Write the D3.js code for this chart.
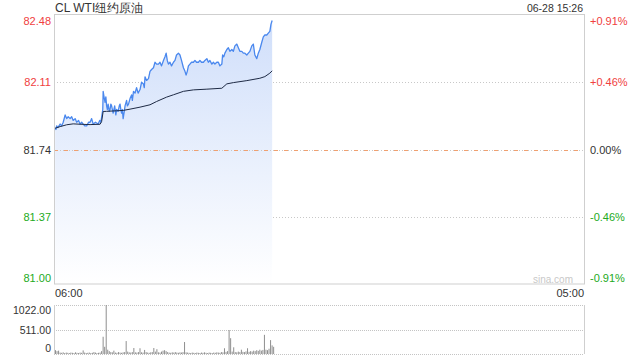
<!DOCTYPE html>
<html><head><meta charset="utf-8">
<script src="https://cdn.jsdelivr.net/npm/d3@7"></script>
<style>
html,body{margin:0;padding:0;background:#fff;}
svg{display:block;font-family:"Liberation Sans",Arial,sans-serif;}
</style></head>
<body><svg id="c" width="640" height="360"></svg>
<script>
// ---- data ----
const title = "CL WTI纽约原油";
const stamp = "06-28 15:26";
const prevClose = 81.74;
const yTicks = [82.48, 82.11, 81.74, 81.37, 81.00];
const pctTicks = ["+0.91%", "+0.46%", "0.00%", "-0.46%", "-0.91%"];
const xTickLabels = ["06:00", "05:00"];
const sessionMinutes = 1380; // 06:00 -> 05:00 next day
// price: minutes after 06:00 and price
const priceMin = [3,5,7,10,16,20,24,29,33,37,42,46,50,55,59,64,68,72,76,80,85,90,94,98,102,108,115,119,122,127,128,131,133,135,137,139,141,144,146,148,150,152,154,158,161,163,167,170,172,174,176,178,180,183,185,189,191,194,198,202,204,207,211,215,219,224,228,233,235,237,241,246,250,254,259,263,267,272,276,280,285,289,292,295,298,302,306,311,315,319,324,328,332,337,341,344,347,350,354,358,363,367,371,376,380,384,389,393,398,402,406,411,415,419,424,428,432,437,439,442,445,450,454,458,463,467,471,476,480,484,489,493,497,502,506,510,515,519,523,528,532,536,541,545,549,554,558,562,565,568];
const priceVal = [81.86,81.85,81.87,81.86,81.88,81.87,81.89,81.93,81.91,81.92,81.91,81.92,81.90,81.91,81.89,81.90,81.88,81.89,81.88,81.87,81.87,81.89,81.89,81.91,81.88,81.89,81.88,81.90,81.89,81.96,82.06,82.02,82.00,82.03,81.98,81.96,81.99,81.95,81.96,81.99,81.98,81.96,81.94,81.98,81.93,81.96,81.95,81.98,81.99,81.96,81.94,81.96,81.91,81.95,81.98,82.01,81.98,81.99,82.02,82.04,82.01,82.06,82.05,82.08,82.05,82.07,82.11,82.10,82.08,82.14,82.12,82.13,82.17,82.18,82.19,82.22,82.21,82.21,82.22,82.20,82.23,82.25,82.27,82.23,82.21,82.22,82.20,82.22,82.23,82.26,82.27,82.26,82.23,82.19,82.17,82.15,82.17,82.20,82.21,82.22,82.22,82.23,82.22,82.22,82.23,82.22,82.22,82.23,82.24,82.22,82.23,82.21,82.22,82.21,82.22,82.22,82.20,82.21,82.26,82.25,82.27,82.29,82.30,82.28,82.29,82.28,82.31,82.32,82.30,82.28,82.28,82.27,82.27,82.26,82.27,82.28,82.31,82.32,82.26,82.24,82.27,82.29,82.33,82.36,82.37,82.37,82.38,82.39,82.43,82.45];
// average price line
const avgMin = [3,16,33,50,68,94,120,124,128,137,163,180,198,224,250,267,293,311,337,363,398,437,450,467,502,536,549,562,568];
const avgVal = [81.857,81.866,81.876,81.881,81.879,81.877,81.879,81.894,81.949,81.950,81.953,81.955,81.962,81.973,81.986,82.004,82.028,82.041,82.060,82.068,82.072,82.077,82.101,82.108,82.119,82.132,82.141,82.160,82.173];
// volume in 4-minute buckets starting 06:00
const volStep = 4;
const volume = [80,60,70,30,25,35,20,30,25,20,30,25,20,35,25,20,30,25,75,30,20,25,30,20,25,40,30,20,25,30,
60,360,150,1022,90,60,40,35,70,30,25,40,30,25,35,40,270,50,35,30,40,125,35,30,40,120,35,30,85,40,
30,25,35,40,125,50,100,35,30,50,70,80,60,40,30,25,35,30,40,30,25,35,30,40,250,35,30,25,20,30,
25,20,30,25,20,30,25,35,25,20,30,25,20,30,25,35,30,25,40,35,120,45,60,500,330,50,140,40,35,50,
40,90,45,40,55,120,45,60,50,70,60,80,65,90,70,85,400,90,80,110,290,180,150];
const volTicks = [1022, 511, 0];
const volTickLabels = ["1022.00", "511.00", "0"];

// ---- layout ----
const svg = d3.select("#c");
const L = 54, R = 584, T = 15, B = 284;
const VT = 305, VB = 354;
const red = "#f04040", green = "#22aa22", dark = "#333";

const x = d3.scaleLinear().domain([0, sessionMinutes]).range([L, R]);
const y = d3.scaleLinear().domain([81.00, 82.48]).range([B, T]);
const yv = d3.scaleLinear().domain([0, 1022]).range([VB, VT]);

const defs = svg.append("defs");
const g = defs.append("linearGradient").attr("id","fillg").attr("gradientUnits","userSpaceOnUse")
  .attr("x1",0).attr("y1",T).attr("x2",0).attr("y2",B);
g.append("stop").attr("offset",0).attr("stop-color","#cfdefa");
g.append("stop").attr("offset",1).attr("stop-color","#ffffff");

// grid lines
[82.11, 81.37].forEach(v => {
  svg.append("line").attr("x1",L).attr("x2",R).attr("y1",Math.round(y(v))+0.5).attr("y2",Math.round(y(v))+0.5)
    .attr("stroke","#c8c8c8").attr("stroke-dasharray","1,2");
});

// price area
const pts = priceMin.map((m,i)=>[m, priceVal[i]]);
svg.append("path").datum(pts)
  .attr("d", d3.area().x(d=>x(d[0])).y0(B).y1(d=>y(d[1])))
  .attr("fill","url(#fillg)");

// prev close line
const pcY = Math.round(y(prevClose))+0.5;
svg.append("line").attr("x1",L).attr("x2",R).attr("y1",pcY).attr("y2",pcY)
  .attr("stroke","#c8c8c8").attr("stroke-dasharray","1,2");
svg.append("line").attr("x1",L).attr("x2",R).attr("y1",pcY).attr("y2",pcY)
  .attr("stroke","#f0a070").attr("stroke-dasharray","4,6");

// price line
svg.append("path").datum(pts)
  .attr("d", d3.line().x(d=>x(d[0])).y(d=>y(d[1])))
  .attr("fill","none").attr("stroke","#4a88ee").attr("stroke-width",1.3).attr("stroke-linejoin","round");

// avg line
const apts = avgMin.map((m,i)=>[m, avgVal[i]]);
svg.append("path").datum(apts)
  .attr("d", d3.line().x(d=>x(d[0])).y(d=>y(d[1])))
  .attr("fill","none").attr("stroke","#1e2a44").attr("stroke-width",1);

// frame
svg.append("rect").attr("x",L+0.5).attr("y",T-0.5).attr("width",R-L).attr("height",B-T+0.5)
  .attr("fill","none").attr("stroke","#cfcfcf");

// watermark
svg.append("text").attr("x",573).attr("y",282.5).attr("text-anchor","end")
  .attr("font-size",10).attr("fill","#c8c8c8").text("sina.com");

// y labels
const lblY = v => Math.min(Math.max(y(v), T+5.7), B-6) + 4;
yTicks.forEach((v,i)=>{
  const col = v > prevClose ? red : (v < prevClose ? green : dark);
  svg.append("text").attr("x",51).attr("y",lblY(v)).attr("text-anchor","end")
    .attr("font-size",11).attr("fill",col).text(v.toFixed(2));
  svg.append("text").attr("x",590).attr("y",lblY(v))
    .attr("font-size",11).attr("fill",col).text(pctTicks[i]);
});

// title & stamp
svg.append("text").attr("x",55).attr("y",11.5).attr("font-size",12).attr("fill",dark).text(title);
svg.append("text").attr("x",583).attr("y",11.5).attr("text-anchor","end").attr("font-size",10.5).attr("fill",dark).text(stamp);

// x labels
svg.append("text").attr("x",x(0)+1).attr("y",297).attr("font-size",11).attr("fill",dark).text(xTickLabels[0]);
svg.append("text").attr("x",x(sessionMinutes)).attr("y",297).attr("text-anchor","end").attr("font-size",11).attr("fill",dark).text(xTickLabels[1]);

// volume panel
volTicks.forEach((v,i)=>{
  const yy = Math.round(yv(v))+0.5;
  svg.append("line").attr("x1",L).attr("x2",R).attr("y1",yy).attr("y2",yy)
    .attr("stroke","#c4c4c4").attr("stroke-dasharray","1,1");
  const ly = Math.min(Math.max(yv(v), VT+5), VB-6.3) + 4;
  svg.append("text").attr("x",51).attr("y",ly).attr("text-anchor","end")
    .attr("font-size",10.5).attr("fill",dark).text(volTickLabels[i]);
});
svg.append("line").attr("x1",L+0.5).attr("x2",L+0.5).attr("y1",VT).attr("y2",VB).attr("stroke","#cfcfcf");
svg.append("line").attr("x1",R+0.5).attr("x2",R+0.5).attr("y1",VT).attr("y2",VB).attr("stroke","#cfcfcf");

svg.append("g").selectAll("rect").data(volume).join("rect")
  .attr("x",(d,i)=>x(i*volStep)+1)
  .attr("width",1)
  .attr("y",d=>yv(d))
  .attr("height",d=>VB-yv(d))
  .attr("fill","#8f8f8f");
</script></body></html>
